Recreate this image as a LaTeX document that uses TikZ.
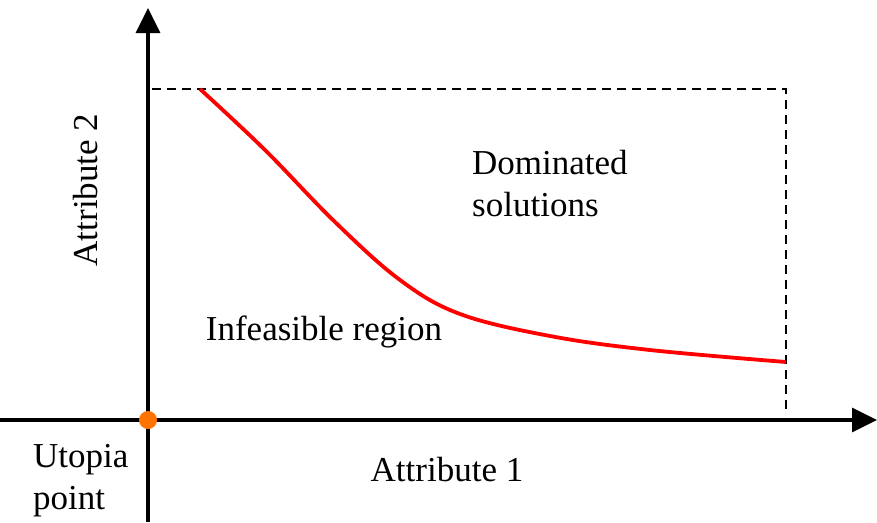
\documentclass[tikz,border=0pt]{standalone}
\usepackage{fontspec}
\setmainfont{Liberation Serif}
\usetikzlibrary{arrows.meta}
\begin{document}
\begin{tikzpicture}[x=1pt,y=-1pt,
  axis/.style={line width=3.5pt,-{Triangle[width=24pt,length=25pt]}},
  bound/.style={line width=2.4pt,dash pattern=on 9pt off 6pt},
  front/.style={line width=3.8pt,red},
  lbl/.style={font=\fontsize{35}{42}\selectfont,inner sep=0pt}]
\useasboundingbox (0,0) rectangle (877,522);
\coordinate (O) at (148,420);
\coordinate (xs) at (0,420);
\coordinate (xe) at (877,420);
\coordinate (ys) at (148,522);
\coordinate (ye) at (148,8);
\coordinate (tl) at (152,89);
\coordinate (tr) at (786,89);
\coordinate (br) at (786,412);
\draw[axis] (xs) -- (xe);
\draw[axis] (ys) -- (ye);
\draw[bound] (tl) -- (tr) -- (br);
\draw[front] plot[smooth,tension=0.6] coordinates {(200,89) (265,150) (335,222) (400,280) (460,314) (550,336) (650,350) (786,362)};
\fill[orange!90!red] (O) circle (9);
\node[lbl,rotate=90] (a2) at (86,190) {Attribute 2};
\node[lbl,align=left,anchor=west] (dom) at (472,184) {Dominated\\solutions};
\node[lbl] (inf) at (324,332) {Infeasible region};
\node[lbl,align=left,anchor=west] (uto) at (33,481) {Utopia\\point};
\node[lbl] (a1) at (447,470) {Attribute 1};
\end{tikzpicture}
\end{document}
